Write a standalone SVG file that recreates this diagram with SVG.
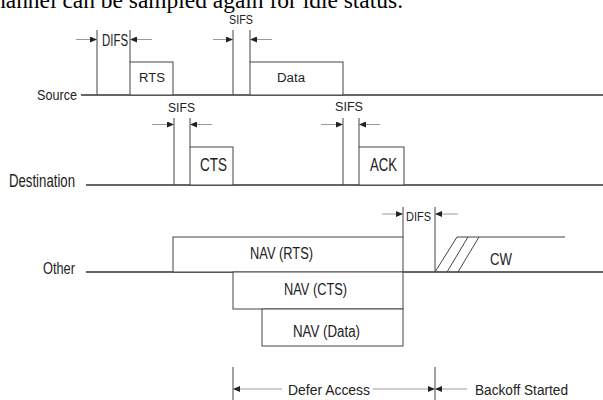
<svg xmlns="http://www.w3.org/2000/svg" width="603" height="400" viewBox="0 0 603 400">
<defs>
<marker id="ah" markerUnits="userSpaceOnUse" markerWidth="8" markerHeight="6" refX="7" refY="3" orient="auto">
<path d="M0,0 L7,3 L0,6 Z" fill="#222"/>
</marker>
<style>
.base{stroke:#666;stroke-width:2;fill:none}
.box{stroke:#444;stroke-width:1;fill:#fff}
.ln{stroke:#444;stroke-width:1;fill:none}
.arr{stroke:#999;stroke-width:1;fill:none;marker-end:url(#ah)}
.lbl{font-family:"Liberation Sans Narrow","Liberation Sans","DejaVu Sans Condensed",sans-serif;fill:#222}
</style>
</defs>
<rect width="603" height="400" fill="#fff"/>
<text x="-6" y="7.5" font-family="Liberation Serif, serif" font-size="23.5" fill="#000" textLength="409" lengthAdjust="spacingAndGlyphs">hannel can be sampled again for idle status.</text>

<g id="source">
<line class="base" x1="81" y1="95" x2="603" y2="95"/>
<text class="lbl" x="37" y="100" font-size="15.5" textLength="40" lengthAdjust="spacingAndGlyphs">Source</text>
<line class="ln" x1="97" y1="30" x2="97" y2="95"/>
<line class="ln" x1="130" y1="30" x2="130" y2="62"/>
<rect class="box" x="130" y="62" width="43" height="33"/>
<text class="lbl" x="139" y="82" font-size="12.5" textLength="26" lengthAdjust="spacingAndGlyphs">RTS</text>
<text class="lbl" x="102" y="46" font-size="16" textLength="26" lengthAdjust="spacingAndGlyphs">DIFS</text>
<line class="ln" x1="233" y1="30" x2="233" y2="95"/>
<line class="ln" x1="250" y1="30" x2="250" y2="62"/>
<text class="lbl" x="229" y="23.5" font-size="13" textLength="24" lengthAdjust="spacingAndGlyphs">SIFS</text>
<rect class="box" x="250" y="62" width="93" height="33"/>
<text class="lbl" x="277" y="82" font-size="12.5" textLength="28" lengthAdjust="spacingAndGlyphs">Data</text>
</g>

<g id="destination">
<line class="base" x1="86" y1="185" x2="603" y2="185"/>
<text class="lbl" x="9" y="186.5" font-size="17.5" textLength="66" lengthAdjust="spacingAndGlyphs">Destination</text>
<line class="ln" x1="174" y1="118" x2="174" y2="185"/>
<line class="ln" x1="190" y1="118" x2="190" y2="147"/>
<text class="lbl" x="168" y="111.5" font-size="13.5" textLength="27" lengthAdjust="spacingAndGlyphs">SIFS</text>
<rect class="box" x="190" y="147" width="43" height="38"/>
<text class="lbl" x="200" y="171" font-size="17.5" textLength="27" lengthAdjust="spacingAndGlyphs">CTS</text>
<line class="ln" x1="343" y1="118" x2="343" y2="185"/>
<line class="ln" x1="359" y1="118" x2="359" y2="147"/>
<text class="lbl" x="335" y="111" font-size="13.5" textLength="28" lengthAdjust="spacingAndGlyphs">SIFS</text>
<rect class="box" x="359" y="147" width="45" height="38"/>
<text class="lbl" x="370" y="171" font-size="17.5" textLength="27" lengthAdjust="spacingAndGlyphs">ACK</text>
</g>

<g id="other">
<line class="base" x1="86" y1="272" x2="603" y2="272"/>
<text class="lbl" x="43" y="273.5" font-size="17" textLength="32" lengthAdjust="spacingAndGlyphs">Other</text>
<rect class="box" x="173" y="237" width="230" height="35"/>
<text class="lbl" x="250" y="259" font-size="16" textLength="63" lengthAdjust="spacingAndGlyphs">NAV (RTS)</text>
<line class="ln" x1="403" y1="207" x2="403" y2="237"/>
<line class="ln" x1="435" y1="207" x2="435" y2="272"/>
<text class="lbl" x="406" y="221" font-size="13.5" textLength="25" lengthAdjust="spacingAndGlyphs">DIFS</text>
<path class="ln" d="M435,272 L457,237 H565"/>
<path class="ln" d="M447,272 L468,237 M458,272 L479,237"/>
<text class="lbl" x="490" y="265" font-size="16" textLength="22" lengthAdjust="spacingAndGlyphs">CW</text>
</g>

<g id="nav-cts">
<rect class="box" x="233" y="272" width="170" height="37"/>
<text class="lbl" x="284" y="295" font-size="16" textLength="63" lengthAdjust="spacingAndGlyphs">NAV (CTS)</text>
</g>

<g id="nav-data">
<rect class="box" x="262" y="309" width="141" height="37"/>
<text class="lbl" x="293" y="337" font-size="16" textLength="67" lengthAdjust="spacingAndGlyphs">NAV (Data)</text>
</g>

<g id="timeline">
<line class="ln" x1="233" y1="367" x2="233" y2="400"/>
<line class="ln" x1="435" y1="367" x2="435" y2="400"/>
<text class="lbl" x="288" y="395" font-size="15.5" textLength="82" lengthAdjust="spacingAndGlyphs">Defer Access</text>
<text class="lbl" x="475" y="395" font-size="15.5" textLength="93" lengthAdjust="spacingAndGlyphs">Backoff Started</text>
</g>

<g id="connectors">
<line class="arr" x1="76" y1="39.5" x2="97" y2="39.5"/>
<line class="arr" x1="152" y1="39.5" x2="130" y2="39.5"/>
<line class="arr" x1="213" y1="39.5" x2="233" y2="39.5"/>
<line class="arr" x1="272" y1="39.5" x2="250" y2="39.5"/>
<line class="arr" x1="152" y1="124.5" x2="174" y2="124.5"/>
<line class="arr" x1="212" y1="124.5" x2="190" y2="124.5"/>
<line class="arr" x1="321" y1="124.5" x2="343" y2="124.5"/>
<line class="arr" x1="380" y1="124.5" x2="359" y2="124.5"/>
<line class="arr" x1="382" y1="214" x2="403" y2="214"/>
<line class="arr" x1="458" y1="214" x2="435" y2="214"/>
<line class="arr" x1="282" y1="389" x2="233" y2="389"/>
<line class="arr" x1="373" y1="389" x2="435" y2="389"/>
<line class="arr" x1="467" y1="389" x2="435" y2="389"/>
</g>
</svg>
